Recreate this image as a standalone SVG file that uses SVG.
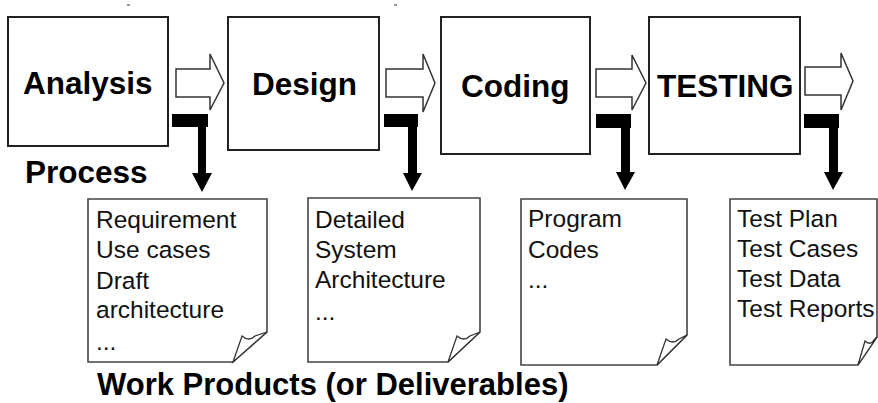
<svg xmlns="http://www.w3.org/2000/svg" width="878" height="403" viewBox="0 0 878 403">
<style>
.box{fill:#fff;stroke:#222;stroke-width:2}
.barrow{fill:#fff;stroke:#333;stroke-width:1.5;stroke-linejoin:miter}
.tconn{fill:#000}
.doc{fill:#fff;stroke:#444;stroke-width:1.6}
.flap{fill:#fff;stroke:#333;stroke-width:1.3}
.big{font-family:"Liberation Sans",Arial,sans-serif;font-weight:bold;font-size:31.5px;fill:#000}
.small{font-family:"Liberation Sans",Arial,sans-serif;font-size:24.5px;fill:#111}
.tick{stroke:#777;stroke-width:1.5}
</style>
<rect width="878" height="403" fill="#fff"/>
<line class="tick" x1="127" y1="5" x2="130" y2="5"/>
<line class="tick" x1="394" y1="5" x2="397" y2="5"/>

<g id="analysis">
<rect class="box" x="8" y="17" width="160" height="129"/>
<text class="big" x="23" y="94">Analysis</text>
</g>
<g id="design">
<rect class="box" x="228" y="17" width="151" height="133"/>
<text class="big" x="252" y="95">Design</text>
</g>
<g id="coding">
<rect class="box" x="441" y="17" width="149" height="137"/>
<text class="big" x="461" y="97">Coding</text>
</g>
<g id="testing">
<rect class="box" x="649" y="17" width="151" height="137"/>
<text class="big" x="657" y="97">TESTING</text>
</g>

<g id="process-label">
<text class="big" x="25" y="183">Process</text>
</g>

<g id="connectors">
<polygon class="barrow" points="176,69 210,69 210,54 224,83 210,110 210,97 176,97"/>
<polygon class="barrow" points="386,69 423,69 423,54 435,83 423,112 423,97 386,97"/>
<polygon class="barrow" points="596,69 632,69 632,55 646,83 632,110 632,97 596,97"/>
<polygon class="barrow" points="805,67 841,67 841,53 853,81 841,110 841,95 805,95"/>
<path class="tconn" d="M172,114 H208 V127 H206 V173 H212 L202,192 L192,173 H198 V127 H172 Z"/>
<path class="tconn" d="M384,114 H418 V127 H417 V173 H422 L412,191 L403,173 H408 V127 H384 Z"/>
<path class="tconn" d="M596,114 H631 V128 H630 V172 H635 L625,190 L616,172 H621 V128 H596 Z"/>
<path class="tconn" d="M804,114 H839 V128 H838 V172 H843 L833,190 L824,172 H829 V128 H804 Z"/>
</g>

<g id="doc-analysis">
<path class="doc" d="M88,199 H267 V332 L233,362 H88 Z"/>
<path class="flap" d="M233,362 L242,336 Q249,342 255,336 L267,332 Z"/>
<text class="small" x="96" y="228">Requirement</text>
<text class="small" x="96" y="258">Use cases</text>
<text class="small" x="96" y="289">Draft</text>
<text class="small" x="96" y="318">architecture</text>
<text class="small" x="96" y="350">...</text>
</g>
<g id="doc-design">
<path class="doc" d="M308,198 H480 V332 L448,362 H308 Z"/>
<path class="flap" d="M448,362 L457,336 Q464,342 470,336 L480,332 Z"/>
<text class="small" x="315" y="228">Detailed</text>
<text class="small" x="315" y="258">System</text>
<text class="small" x="315" y="288">Architecture</text>
<text class="small" x="315" y="320">...</text>
</g>
<g id="doc-coding">
<path class="doc" d="M521,199 H687 V335 L657,365 H521 Z"/>
<path class="flap" d="M657,365 L666,339 Q673,345 679,339 L687,335 Z"/>
<text class="small" x="528" y="227">Program</text>
<text class="small" x="528" y="258">Codes</text>
<text class="small" x="528" y="288">...</text>
</g>
<g id="doc-testing">
<path class="doc" d="M730,199 H877 V337 L858,365 H730 Z"/>
<path class="flap" d="M858,365 L865,341 Q870,346 874,340 L877,337 Z"/>
<text class="small" x="737" y="227">Test Plan</text>
<text class="small" x="737" y="257">Test Cases</text>
<text class="small" x="737" y="287">Test Data</text>
<text class="small" x="737" y="317">Test Reports</text>
</g>

<g id="work-products-label">
<text class="big" x="97" y="395" style="font-size:31px">Work Products (or Deliverables)</text>
</g>
</svg>
